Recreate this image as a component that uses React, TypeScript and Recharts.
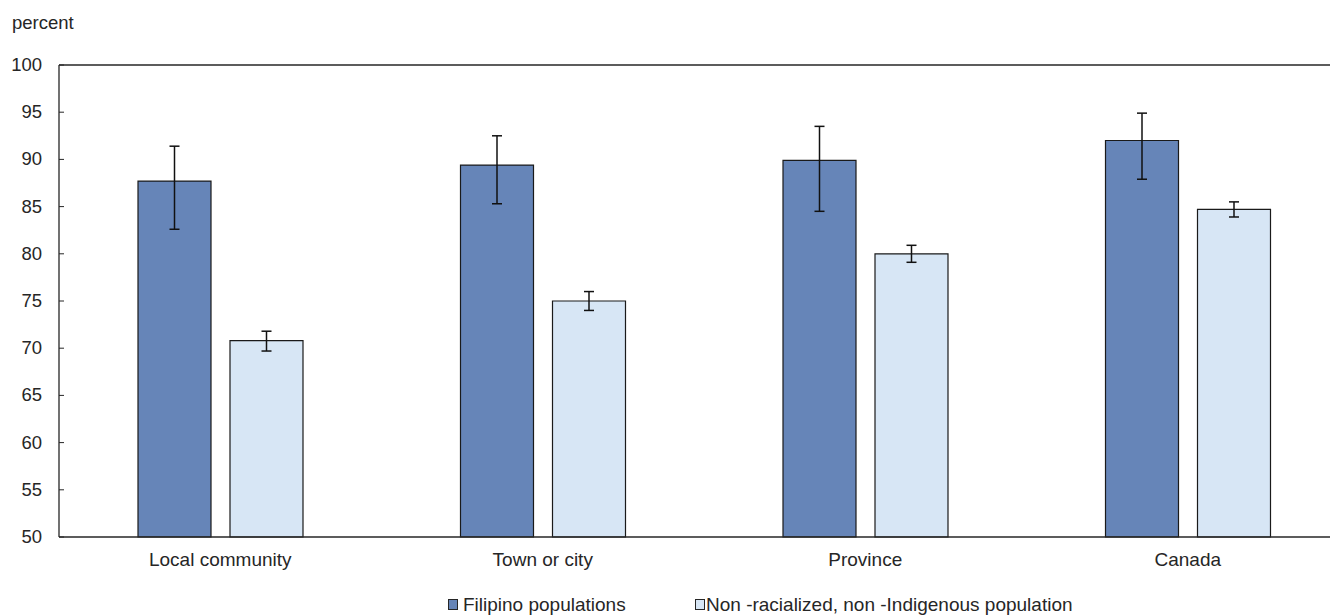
import { BarChart, Bar, XAxis, YAxis, ErrorBar, ReferenceLine } from "recharts";

const categories = ["Local community", "Town or city", "Province", "Canada"];
const filipino = [87.7, 89.4, 89.9, 92.0];
const filipinoLow = [82.6, 85.3, 84.5, 87.9];
const filipinoHigh = [91.4, 92.5, 93.5, 94.9];
const nonRacialized = [70.8, 75.0, 80.0, 84.7];
const nonRacializedLow = [69.7, 74.0, 79.1, 83.9];
const nonRacializedHigh = [71.8, 76.0, 80.9, 85.5];
const yTicks = [50, 55, 60, 65, 70, 75, 80, 85, 90, 95, 100];

const FONT = '"Liberation Sans", Arial, sans-serif';
const INK = "#262626";
const DARK = "#6685B8";
const LIGHT = "#D7E6F5";

const data = categories.map((name, i) => ({
  name,
  filipino: filipino[i],
  filipinoErr: [filipino[i] - filipinoLow[i], filipinoHigh[i] - filipino[i]],
  nonRacialized: nonRacialized[i],
  nonRacializedErr: [nonRacialized[i] - nonRacializedLow[i], nonRacializedHigh[i] - nonRacialized[i]],
}));

// y ticks sit inside the plot, so draw the tick mark by hand
function YTick(props: any) {
  const { x, y, payload } = props;
  return (
    <g>
      <line x1={x + 17} x2={x + 22} y1={y} y2={y} stroke={INK} strokeWidth={1} />
      <text x={x} y={y} dy={6} textAnchor="end" fill={INK} fontSize={18.5} fontFamily={FONT}>
        {payload.value}
      </text>
    </g>
  );
}

function LegendItem({ color, label, left, gap }: { color: string; label: string; left: number; gap: number }) {
  return (
    <div style={{ position: "absolute", left, top: 0, height: 22, display: "flex", alignItems: "center" }}>
      <span style={{ width: 8, height: 9, background: color, border: `1px solid ${INK}`, marginRight: gap, marginTop: -2 }} />
      <span>{label}</span>
    </div>
  );
}

export default function App() {
  return (
    <div style={{ position: "relative", width: 1330, height: 608, overflow: "hidden", fontFamily: FONT, color: INK }}>
      <div style={{ position: "absolute", left: 4, top: 4, fontSize: 18.5 }}>percent</div>
      <BarChart
        width={1341}
        height={608}
        data={data}
        margin={{ top: 57, right: 0, bottom: 0, left: 0 }}
        barSize={73}
        barGap={19}
      >
        <YAxis
          domain={[50, 100]}
          ticks={yTicks}
          width={51}
          interval={0}
          tickSize={0}
          tickMargin={17}
          tickLine={false}
          axisLine={{ stroke: INK, strokeWidth: 1.3 }}
          tick={<YTick />}
        />
        <XAxis
          dataKey="name"
          height={79}
          tickLine={false}
          tickSize={0}
          tickMargin={16}
          axisLine={{ stroke: INK, strokeWidth: 1.3 }}
          tick={{ fill: INK, fontSize: 19, fontFamily: FONT }}
        />
        <ReferenceLine y={100} stroke={INK} strokeWidth={1.3} />
        <Bar dataKey="filipino" fill={DARK} stroke="#1a1a1a" strokeWidth={1.2} isAnimationActive={false}>
          <ErrorBar dataKey="filipinoErr" width={5} stroke="#111" strokeWidth={1.5} />
        </Bar>
        <Bar dataKey="nonRacialized" fill={LIGHT} stroke="#1a1a1a" strokeWidth={1.2} isAnimationActive={false}>
          <ErrorBar dataKey="nonRacializedErr" width={5} stroke="#111" strokeWidth={1.5} />
        </Bar>
      </BarChart>
      <div style={{ position: "absolute", left: 0, top: 586, width: 1330, height: 22, fontSize: 19 }}>
        <LegendItem color={DARK} label="Filipino populations" left={440} gap={5} />
        <LegendItem color={LIGHT} label="Non -racialized, non -Indigenous population" left={687} gap={1} />
      </div>
    </div>
  );
}
